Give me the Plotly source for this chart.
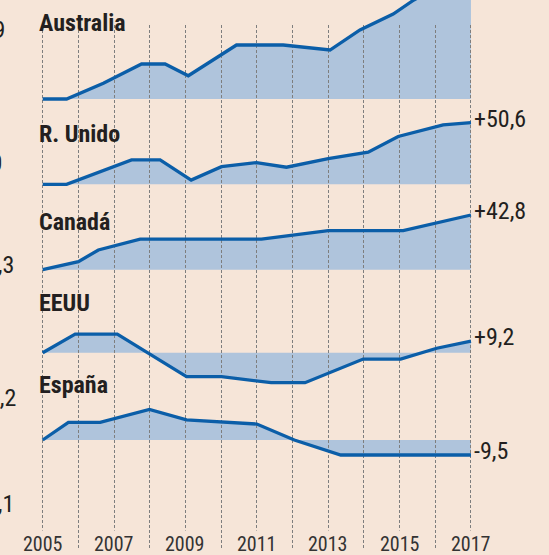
import plotly.graph_objects as go

# ---------------- data ----------------
countries = ["Australia", "R. Unido", "Canadá", "EEUU", "España"]

aus_x = [2005, 2005.67, 2006.7, 2007.77, 2008.43, 2009.08, 2010.43, 2011.74, 2013.05, 2013.89, 2014.82, 2015.4, 2016.2, 2017]
aus_y = [0, 0, 12.6, 28.0, 28.0, 18.6, 43.2, 43.2, 39.2, 55.2, 68.0, 79.2, 92.0, 104.0]

uk_x = [2005, 2005.67, 2007.49, 2008.29, 2009.16, 2010.01, 2010.99, 2011.83, 2013.0, 2014.12, 2014.96, 2016.22, 2017]
uk_y = [0, 0, 20.0, 20.0, 3.5, 14.5, 17.8, 14.0, 21.0, 26.3, 39.2, 48.7, 50.6]

can_x = [2005, 2006.0, 2006.56, 2007.73, 2011.13, 2013.0, 2015.1, 2017]
can_y = [0, 6.3, 15.4, 24.0, 24.0, 30.5, 30.5, 42.8]

usa_x = [2005, 2005.91, 2007.09, 2009.03, 2010.01, 2011.4, 2012.35, 2013.98, 2015.03, 2016.04, 2017]
usa_y = [0, 14.7, 14.7, -18.9, -18.9, -23.6, -23.6, -5.0, -5.0, 3.5, 9.2]

esp_x = [2005, 2005.72, 2006.61, 2007.99, 2009.03, 2011.0, 2012.05, 2013.35, 2017]
esp_y = [0, 11.2, 11.2, 19.4, 12.7, 10.1, 0.0, -9.5, -9.5]

series_x = [aus_x, uk_x, can_x, usa_x, esp_x]
series_y = [aus_y, uk_y, can_y, usa_y, esp_y]
end_labels = [None, "+50,6", "+42,8", "+9,2", "-9,5"]

grid_years = list(range(2005, 2018))
tick_years = [2005, 2007, 2009, 2011, 2013, 2015, 2017]
tick_labels = [str(y) for y in tick_years]

# partially visible labels from the neighbouring (cropped) panel
cut_labels = ["+1,9", "+3,0", "+1,3", "+1,2", "+0,1"]

# ---------------- style / geometry ----------------
W, H = 549, 555
BG = "#F6E5D8"
LINE = "#0B5EA8"
FILL = "#AFC4DC"
TXT = "#231F20"
GRID = "#7E7E7E"
FONT = "Liberation Sans Narrow, Roboto Condensed, DejaVu Sans Condensed, Arial Narrow, sans-serif"

X_RANGE = [2003.804, 2019.186]
baseline_px = [99, 184.3, 269.7, 352.7, 440]
px_per_unit = [1.25, 1.219, 1.278, 1.27, 1.58]
title_px = [22.8, 134.2, 221.7, 302.5, 384.7]
cut_px = [(7, 29.5), (4, 163), (16, 265), (18, 398), (16, 504)]
tick_label_px = 544
grid_top_px, grid_bottom_px = 25, 548

fig = go.Figure()
layout = dict(
    width=W, height=H,
    margin=dict(l=0, r=0, t=0, b=0),
    paper_bgcolor=BG, plot_bgcolor="rgba(0,0,0,0)",
    showlegend=False, hovermode=False,
)

def yrange(i):
    b, s = baseline_px[i], px_per_unit[i]
    return [(b - H) / s, b / s]

def xaxis_hidden():
    return dict(range=X_RANGE, domain=[0, 1], visible=False, fixedrange=True)

def yaxis_hidden(i):
    return dict(range=yrange(i), domain=[0, 1], visible=False, fixedrange=True)

# subplots 1-5 : fills
for i in range(5):
    n = i + 1
    sx = "" if n == 1 else str(n)
    fig.add_trace(go.Scatter(
        x=series_x[i], y=series_y[i], mode="none", fill="tozeroy",
        fillcolor=FILL, xaxis="x" + sx, yaxis="y" + sx, hoverinfo="skip"))
    layout["xaxis" + sx] = xaxis_hidden()
    layout["yaxis" + sx] = dict(yaxis_hidden(i), anchor="x" + sx)
    layout["xaxis" + sx]["anchor"] = "y" + sx

# subplot 6 : dashed year gridlines (above fills, below lines)
fig.add_trace(go.Scatter(x=[grid_years[0]], y=[0], mode="markers",
                         marker=dict(opacity=0), xaxis="x6", yaxis="y6", hoverinfo="skip"))
layout["xaxis6"] = dict(range=X_RANGE, domain=[0, 1], anchor="y6", showgrid=True,
                        tickvals=grid_years, showticklabels=False, ticks="",
                        gridcolor=GRID, gridwidth=1, griddash="3px,2px",
                        zeroline=False, showline=False, fixedrange=True)
layout["yaxis6"] = dict(range=[0, 1], domain=[1 - grid_bottom_px / H, 1 - grid_top_px / H],
                        anchor="x6", visible=False, fixedrange=True)

# subplots 7-11 : lines
for i in range(5):
    n = i + 7
    fig.add_trace(go.Scatter(
        x=series_x[i], y=series_y[i], mode="lines",
        line=dict(color=LINE, width=3.3), xaxis="x%d" % n, yaxis="y%d" % n,
        hoverinfo="skip"))
    layout["xaxis%d" % n] = dict(xaxis_hidden(), anchor="y%d" % n)
    layout["yaxis%d" % n] = dict(yaxis_hidden(i), anchor="x%d" % n)

annotations = []
# country titles
for i, name in enumerate(countries):
    annotations.append(dict(
        text=name, xref="x", yref="paper", x=grid_years[0], y=1 - title_px[i] / H,
        xanchor="left", yanchor="middle", xshift=-6, showarrow=False,
        font=dict(family=FONT, size=24, color=TXT, weight="bold")))
# end labels
for i, lab in enumerate(end_labels):
    if lab is None:
        continue
    sy = "" if i == 0 else str(i + 1)
    annotations.append(dict(
        text=lab, xref="x", yref="y" + sy, x=series_x[i][-1], y=series_y[i][-1],
        xanchor="left", yanchor="middle", xshift=1, yshift=4, showarrow=False,
        font=dict(family=FONT, size=24, color=TXT)))
# cut labels at left edge
for (px, py), lab in zip(cut_px, cut_labels):
    annotations.append(dict(
        text=lab, xref="paper", yref="paper", x=px / W, y=1 - py / H,
        xanchor="right", yanchor="middle", showarrow=False,
        font=dict(family=FONT, size=24, color=TXT)))
# year tick labels
for yr, lab in zip(tick_years, tick_labels):
    annotations.append(dict(
        text=lab, xref="x", yref="paper", x=yr, y=1 - tick_label_px / H,
        xanchor="center", yanchor="middle", showarrow=False, bgcolor=BG,
        font=dict(family=FONT, size=20, color="#333333")))

layout["annotations"] = annotations
fig.update_layout(**layout)
fig.write_html("out.html", config={"displayModeBar": False, "staticPlot": True})
